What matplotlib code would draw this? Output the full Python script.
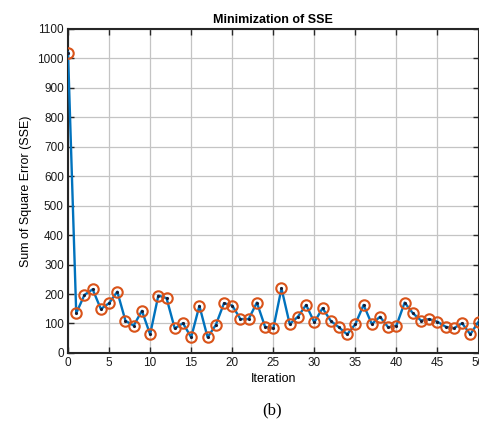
import matplotlib
matplotlib.use('Agg')
import matplotlib.pyplot as plt
import numpy as np

# SSE per iteration
iterations = list(range(0, 51))
sse = [
    1020, 135, 197, 216, 149, 169, 208, 109, 93, 143,
    63, 195, 186, 83, 101, 53, 160, 53, 95, 169,
    161, 115, 115, 171, 89, 83, 219, 98, 123, 163,
    104, 152, 109, 87, 63, 98, 163, 98, 123, 87,
    93, 171, 135, 110, 115, 106, 89, 84, 101, 63,
    106,
]
x_ticks = list(range(0, 51, 5))
y_ticks = list(range(0, 1101, 100))

LINE_BLUE = '#0072BD'
MARK_RED = '#D95319'
AXIS_GRAY = '#262626'

plt.rcParams['font.family'] = ['Liberation Sans', 'DejaVu Sans']

fig = plt.figure(figsize=(4.79, 4.32), dpi=100)
ax = fig.add_axes([0.142, 0.183, 0.857, 0.750])

ax.plot(iterations, sse, '-', color=LINE_BLUE, lw=1.7, zorder=3)
ax.plot(iterations, sse, 'o', mfc='none', mec=MARK_RED, mew=1.5, ms=7.5, zorder=4)
ax.plot(iterations, sse, '.', color='#1a1a2e', ms=2.5, zorder=5)

ax.set_xlim(0, 50)
ax.set_ylim(0, 1100)
ax.set_xticks(x_ticks)
ax.set_yticks(y_ticks)
ax.grid(True, color='#c4c4c4', lw=0.9)
ax.set_axisbelow(True)

for s in ax.spines.values():
    s.set_color(AXIS_GRAY)
    s.set_linewidth(1.5)
ax.tick_params(direction='in', top=True, right=True, length=4, width=1,
               color=AXIS_GRAY, labelsize=8.5, labelcolor='#1a1a1a', pad=3)

ax.set_title('Minimization of SSE', fontsize=9, fontweight='bold', pad=4)
ax.set_xlabel('Iteration', fontsize=9, labelpad=3)
ax.set_ylabel('Sum of Square Error (SSE)', fontsize=9, labelpad=4)

fig.text(0.568, 0.040, '(b)', family=['Liberation Serif', 'DejaVu Serif'],
         fontsize=12, ha='center', va='baseline')

fig.savefig('out.png', dpi=100)
